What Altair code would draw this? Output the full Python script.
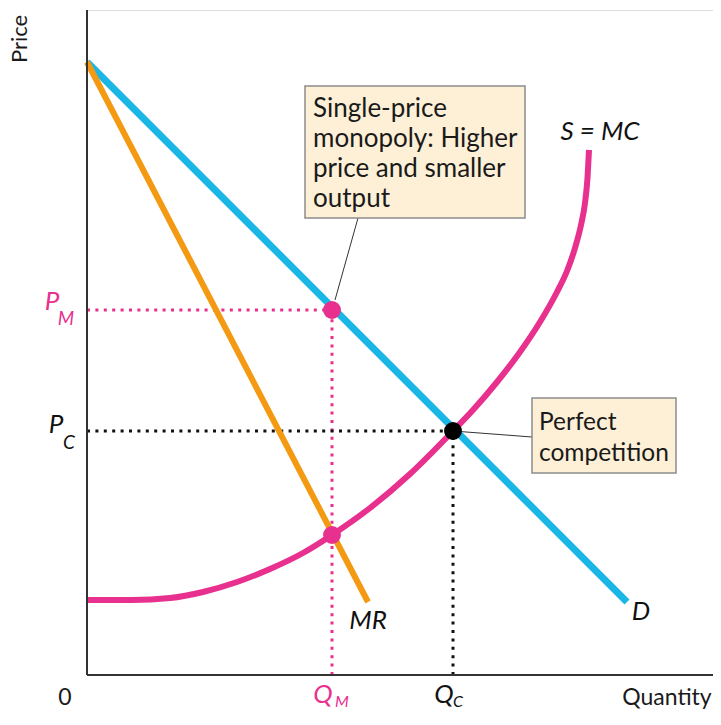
import altair as alt
import pandas as pd

FONT = "Lato"

# ---- curve data (quantity, price) in chart units ----
d_q = [0, 540]
d_p = [613, 73]

mr_q = [0, 281]
mr_p = [613, 73]

mc_q = [0, 45, 83, 116, 150, 183, 216, 245, 283, 323, 366, 386, 410, 433, 453, 470, 480, 488, 494, 498, 500.5, 502]
mc_p = [75, 75, 77, 83, 93, 106, 122, 140, 167, 201, 244, 265, 293, 323, 353, 383, 404, 427, 450, 472, 497, 525]

# equilibrium points
pt_q = [245, 245, 366]
pt_p = [365, 140, 244]
pt_color = ["#e8308e", "#e8308e", "#000000"]

# guide (dotted) lines
g_x = [0, 245, 0, 366]
g_x2 = [245, 245, 366, 366]
g_y = [365, 0, 244, 0]
g_y2 = [365, 365, 244, 244]
g_color = ["#e8308e", "#e8308e", "#111111", "#111111"]

# axes
ax_x = [0, 0]
ax_x2 = [640, 0]
ax_y = [0, 0]
ax_y2 = [0, 665]

# annotation boxes
box_x = [218, 445]
box_x2 = [438, 589]
box_y = [589, 277]
box_y2 = [457, 202]

# connectors
con_x = [271, 366]
con_x2 = [248, 445]
con_y = [457, 244]
con_y2 = [375, 238]

# box text
bt1_text = ["Single-price", "monopoly: Higher", "price and smaller", "output"]
bt1_x = [226, 226, 226, 226]
bt1_y = [558, 528, 498, 468]
bt2_text = ["Perfect", "competition"]
bt2_x = [452, 452]
bt2_y = [245, 214]

# upright labels
lab_text = ["0", "Quantity"]
lab_x = [-22, 580]
lab_y = [-23, -23]

# italic labels
it_text = ["P", "M", "P", "C", "Q", "M", "Q", "C", "MR", "D", "S = MC"]
it_x = [-35, -21, -31, -18, 236, 255, 357, 371, 281, 554, 513]
it_y = [373, 356, 250, 232, -20, -27, -20, -27, 54, 63, 543]
it_size = [26, 19, 26, 19, 26, 16, 26, 16, 26, 26, 26]
it_color = ["#e8308e", "#e8308e", "#111111", "#111111", "#e8308e", "#e8308e",
            "#111111", "#111111", "#111111", "#111111", "#111111"]

XS = alt.Scale(domain=[0, 626], nice=False, zero=False)
YS = alt.Scale(domain=[0, 665], nice=False, zero=False)


def X(f):
    return alt.X(f, type="quantitative", scale=XS, axis=None)


def Y(f):
    return alt.Y(f, type="quantitative", scale=YS, axis=None)


guides = alt.Chart(pd.DataFrame({"x": g_x, "x2": g_x2, "y": g_y, "y2": g_y2, "c": g_color})).mark_rule(
    strokeDash=[3, 5.4], strokeWidth=3, strokeCap="butt"
).encode(x=X("x"), x2="x2", y=Y("y"), y2="y2", color=alt.Color("c:N", scale=None))

axes = alt.Chart(pd.DataFrame({"x": ax_x, "x2": ax_x2, "y": ax_y, "y2": ax_y2})).mark_rule(
    strokeWidth=2, color="#333333"
).encode(x=X("x"), x2="x2", y=Y("y"), y2="y2")

d_line = alt.Chart(pd.DataFrame({"q": d_q, "p": d_p})).mark_line(
    color="#1ab6e6", strokeWidth=7, strokeCap="butt"
).encode(x=X("q"), y=Y("p"))

mr_line = alt.Chart(pd.DataFrame({"q": mr_q, "p": mr_p})).mark_line(
    color="#f39a12", strokeWidth=6, strokeCap="butt"
).encode(x=X("q"), y=Y("p"))

mc_line = alt.Chart(pd.DataFrame({"q": mc_q, "p": mc_p, "o": list(range(len(mc_q)))})).mark_line(
    color="#e8308e", strokeWidth=6, interpolate="monotone", strokeCap="butt"
).encode(x=X("q"), y=Y("p"), order="o:Q")

points = alt.Chart(pd.DataFrame({"q": pt_q, "p": pt_p, "c": pt_color})).mark_circle(
    size=320, opacity=1
).encode(x=X("q"), y=Y("p"), color=alt.Color("c:N", scale=None))

connectors = alt.Chart(pd.DataFrame({"x": con_x, "x2": con_x2, "y": con_y, "y2": con_y2})).mark_rule(
    strokeWidth=1, color="#333333"
).encode(x=X("x"), x2="x2", y=Y("y"), y2="y2")

boxes = alt.Chart(pd.DataFrame({"x": box_x, "x2": box_x2, "y": box_y, "y2": box_y2})).mark_rect(
    fill="#fdf0d6", stroke="#8c8c8c", strokeWidth=1.5
).encode(x=X("x"), x2="x2", y=Y("y"), y2="y2")

box_text1 = alt.Chart(pd.DataFrame({"x": bt1_x, "y": bt1_y, "t": bt1_text})).mark_text(
    align="left", baseline="alphabetic", font=FONT, fontSize=26, color="#1a1a1a"
).encode(x=X("x"), y=Y("y"), text="t:N")

box_text2 = alt.Chart(pd.DataFrame({"x": bt2_x, "y": bt2_y, "t": bt2_text})).mark_text(
    align="left", baseline="alphabetic", font=FONT, fontSize=24.5, color="#1a1a1a"
).encode(x=X("x"), y=Y("y"), text="t:N")

labels = alt.Chart(pd.DataFrame({"x": lab_x, "y": lab_y, "t": lab_text})).mark_text(
    align="center", baseline="middle", font=FONT, fontSize=23, color="#1a1a1a"
).encode(x=X("x"), y=Y("y"), text="t:N")

italic = alt.Chart(pd.DataFrame({"x": it_x, "y": it_y, "t": it_text, "s": it_size, "c": it_color})).mark_text(
    align="center", baseline="middle", font=FONT, fontStyle="italic"
).encode(x=X("x"), y=Y("y"), text="t:N",
         size=alt.Size("s:Q", scale=None), color=alt.Color("c:N", scale=None))

price = alt.Chart(pd.DataFrame({"x": [-67], "y": [636], "t": ["Price"]})).mark_text(
    align="center", baseline="middle", font=FONT, fontSize=22, angle=270, color="#1a1a1a"
).encode(x=X("x"), y=Y("y"), text="t:N")

chart = alt.layer(
    guides, connectors, d_line, mr_line, mc_line, points, axes, boxes,
    box_text1, box_text2, labels, italic, price
).properties(
    width=626, height=665,
    autosize=alt.AutoSizeParams(type="none"),
    padding={"left": 79, "top": 2, "right": 0, "bottom": 36},
).configure_view(stroke=None).configure(background="white")

chart.save("out.html", embed_options={"renderer": "svg", "actions": False})
